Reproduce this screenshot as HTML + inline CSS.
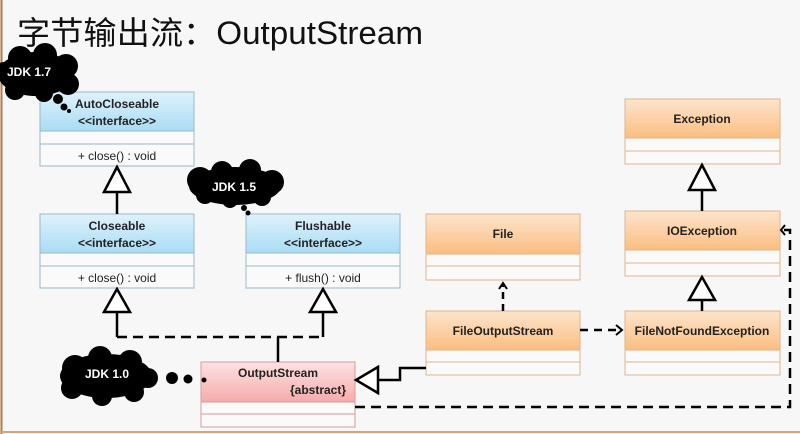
<!DOCTYPE html>
<html><head><meta charset="utf-8"><style>
body{margin:0;width:800px;height:434px;overflow:hidden;background:#f7f7f7;}
svg{display:block}
text{font-family:"Liberation Sans","Noto Sans CJK SC",sans-serif;}
</style></head><body>
<svg width="800" height="434" viewBox="0 0 800 434" xmlns="http://www.w3.org/2000/svg">
<defs>
<linearGradient id="bl" x1="0" y1="0" x2="0" y2="1"><stop offset="0" stop-color="#dff2fb"/><stop offset="1" stop-color="#a9dcf4"/></linearGradient>
<linearGradient id="or" x1="0" y1="0" x2="0" y2="1"><stop offset="0" stop-color="#fde5cc"/><stop offset="1" stop-color="#fbbd80"/></linearGradient>
<linearGradient id="pk" x1="0" y1="0" x2="0" y2="1"><stop offset="0" stop-color="#fde2e2"/><stop offset="1" stop-color="#f5abab"/></linearGradient>
</defs>
<rect width="800" height="434" fill="#f7f7f7"/>
<line x1="1.5" y1="0" x2="1.5" y2="434" stroke="#b07a4a" stroke-width="2"/>
<line x1="0" y1="432" x2="800" y2="432" stroke="#d8a27a" stroke-width="2"/>
<text x="17" y="44" font-size="32" fill="#111" textLength="406" lengthAdjust="spacingAndGlyphs">字节输出流：OutputStream</text>

<g stroke="#9ab8c8" stroke-width="1" fill="#111">
<rect x="40" y="92" width="154" height="74" fill="#fafafa"/>
<rect x="40" y="92" width="154" height="39" fill="url(#bl)"/>
<line x1="40" y1="144" x2="194" y2="144"/>
<rect x="40" y="214" width="154" height="74" fill="#fafafa"/>
<rect x="40" y="214" width="154" height="39" fill="url(#bl)"/>
<line x1="40" y1="266" x2="194" y2="266"/>
<rect x="246" y="214" width="154" height="74" fill="#fafafa"/>
<rect x="246" y="214" width="154" height="39" fill="url(#bl)"/>
<line x1="246" y1="266" x2="400" y2="266"/>
</g>
<g stroke="#e0b48c" stroke-width="1">
<rect x="426" y="214" width="154" height="66" fill="#fafafa"/>
<rect x="426" y="214" width="154" height="40" fill="url(#or)"/>
<line x1="426" y1="266" x2="580" y2="266"/>
<rect x="426" y="311" width="154" height="64" fill="#fafafa"/>
<rect x="426" y="311" width="154" height="39" fill="url(#or)"/>
<line x1="426" y1="362" x2="580" y2="362"/>
<rect x="625" y="99" width="155" height="65" fill="#fafafa"/>
<rect x="625" y="99" width="155" height="39" fill="url(#or)"/>
<line x1="625" y1="151" x2="780" y2="151"/>
<rect x="625" y="211" width="155" height="65" fill="#fafafa"/>
<rect x="625" y="211" width="155" height="39" fill="url(#or)"/>
<line x1="625" y1="263" x2="780" y2="263"/>
<rect x="625" y="311" width="155" height="64" fill="#fafafa"/>
<rect x="625" y="311" width="155" height="39" fill="url(#or)"/>
<line x1="625" y1="362" x2="780" y2="362"/>
</g>
<g stroke="#d89a9a" stroke-width="1">
<rect x="201" y="362" width="154" height="65" fill="#fafafa"/>
<rect x="201" y="362" width="154" height="40" fill="url(#pk)"/>
<line x1="201" y1="414" x2="355" y2="414"/>
</g>
<g font-size="12" font-weight="bold" text-anchor="middle" fill="#222">
<text x="117" y="108">AutoCloseable</text><text x="117" y="125">&lt;&lt;interface&gt;&gt;</text>
<text x="117" y="230">Closeable</text><text x="117" y="247">&lt;&lt;interface&gt;&gt;</text>
<text x="323" y="230">Flushable</text><text x="323" y="247">&lt;&lt;interface&gt;&gt;</text>
<text x="503" y="238">File</text>
<text x="503" y="335">FileOutputStream</text>
<text x="702" y="123">Exception</text>
<text x="702" y="235">IOException</text>
<text x="702" y="335">FileNotFoundException</text>
<text x="278" y="377">OutputStream</text>
<text x="346" y="394" text-anchor="end">{abstract}</text>
</g>
<g font-size="12" text-anchor="middle" fill="#222">
<text x="117" y="160">+ close() : void</text>
<text x="117" y="282">+ close() : void</text>
<text x="323" y="282">+ flush() : void</text>
</g>

<g stroke="#000" stroke-width="2.5" fill="none">
<line x1="117" y1="192" x2="117" y2="214"/>
<line x1="117" y1="312" x2="117" y2="337"/>
<line x1="323" y1="312" x2="323" y2="337"/>
<line x1="278" y1="337" x2="278" y2="362"/>
<line x1="117" y1="337" x2="323" y2="337" stroke-dasharray="10,6"/>
<polyline points="378,380 400,380 400,368 426,368"/>
<polyline points="355,407 790,407 790,230 782,230" stroke-dasharray="10,6"/>
<polyline points="785,225 781,230 785,235" stroke-width="2"/>
<line x1="580" y1="330" x2="620" y2="330" stroke-dasharray="8,6"/>
<polyline points="616,325 622,330 616,335" stroke-width="2"/>
<line x1="503" y1="311" x2="503" y2="285" stroke-dasharray="7,5"/>
<polyline points="499,289 503,283 507,289" stroke-width="2"/>
<line x1="702" y1="190" x2="702" y2="211"/>
<line x1="702" y1="300" x2="702" y2="311"/>
</g>
<g stroke="#000" stroke-width="2.5" fill="#fff">
<polygon points="117,167 104,192 130,192"/>
<polygon points="117,289 104,312 130,312"/>
<polygon points="323,289 310,312 336,312"/>
<polygon points="356,380 378,367 378,393"/>
<polygon points="702,165 689,190 715,190"/>
<polygon points="702,277 689,300 715,300"/>
</g>

<g fill="#000">
<ellipse cx="36" cy="74" rx="38" ry="22"/>
<circle cx="20" cy="58" r="12"/><circle cx="45" cy="55" r="12"/><circle cx="66" cy="66" r="12"/><circle cx="68" cy="84" r="11"/><circle cx="44" cy="93" r="9"/><circle cx="15" cy="90" r="10"/><circle cx="4" cy="72" r="10"/>
<circle cx="58" cy="99" r="5"/><circle cx="64" cy="107" r="3.5"/><circle cx="69" cy="111" r="2"/>
<ellipse cx="235" cy="186" rx="46" ry="19"/>
<circle cx="200" cy="180" r="13"/><circle cx="222" cy="172" r="11"/><circle cx="250" cy="170" r="11"/><circle cx="272" cy="182" r="12"/><circle cx="262" cy="197" r="9"/><circle cx="230" cy="200" r="8"/><circle cx="205" cy="195" r="9"/>
<circle cx="244" cy="208" r="3"/><circle cx="248" cy="213" r="2.5"/>
<ellipse cx="106" cy="376" rx="46" ry="22"/>
<circle cx="75" cy="368" r="13"/><circle cx="100" cy="358" r="12"/><circle cx="130" cy="362" r="12"/><circle cx="148" cy="378" r="10"/><circle cx="134" cy="392" r="10"/><circle cx="102" cy="396" r="10"/><circle cx="72" cy="388" r="11"/>
<circle cx="172" cy="378" r="6"/><circle cx="188" cy="379" r="4.5"/><circle cx="204" cy="380" r="2.5"/>
</g>
<g font-size="12" font-weight="bold" fill="#fff">
<text x="7" y="76">JDK 1.7</text>
<text x="212" y="191">JDK 1.5</text>
<text x="85" y="378">JDK 1.0</text>
</g>
</svg>
</body></html>
